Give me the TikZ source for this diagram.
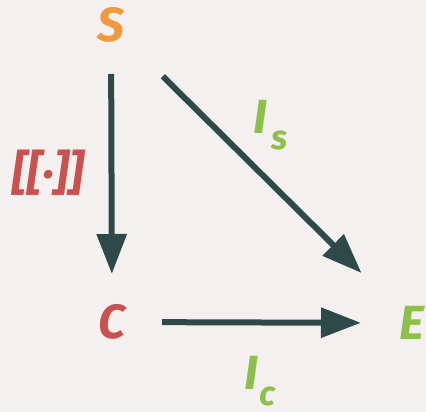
\documentclass[tikz,border=0pt]{standalone}
\usepackage{fontspec}
\setmainfont{Fira Sans}
\usetikzlibrary{arrows.meta}

\definecolor{bgpaper}{HTML}{F5F0F0}
\definecolor{sorange}{HTML}{F09A3E}
\definecolor{cred}{HTML}{C9514F}
\definecolor{egreen}{HTML}{8CC04B}
\definecolor{arrslate}{HTML}{2E4A48}

\begin{document}
\begin{tikzpicture}[
    x=1pt, y=-1pt,
    >={Triangle[length=40pt, width=29pt]},
    font=\fontsize{48}{52}\selectfont\bfseries\itshape,
    arr/.style={->, draw=arrslate, fill=arrslate, line width=6pt},
    obj/.style={inner sep=0pt},
    lbl/.style={inner sep=0pt, text=egreen}
]

% ======================= BACKGROUND =======================
\fill[bgpaper] (0,0) rectangle (426,412);
\useasboundingbox (0,0) rectangle (426,412);

% ----------------------- OBJECTS ---------------------------
\node[obj, text=sorange] (S) at (111,25) {S};
\node[obj, text=cred]    (C) at (112,322) {C};
\node[obj, text=egreen]  (E) at (412,323) {E};

% ----------------------- ARROWS ----------------------------
\draw[arr, shorten <=49pt, shorten >=48pt] (S.center) -- (C.center);
\draw[arr, shorten <=73pt, shorten >=71pt] (S.center) -- (E.center);
\draw[arr, shorten <=50pt, shorten >=51pt] (C.center) -- (E.center);

% ----------------------- LABELS ----------------------------
\node[inner sep=0pt, text=cred] (sem) at (48,173) {[[·]]};
\node[lbl, anchor=base west] (Is) at (253,133)
    {I\kern4pt\raisebox{-17pt}{\fontsize{34}{36}\selectfont s}};
\node[lbl, anchor=base west] (Ic) at (244,389)
    {I\kern1pt\raisebox{-16pt}{\fontsize{34}{36}\selectfont c}};

\end{tikzpicture}
\end{document}
